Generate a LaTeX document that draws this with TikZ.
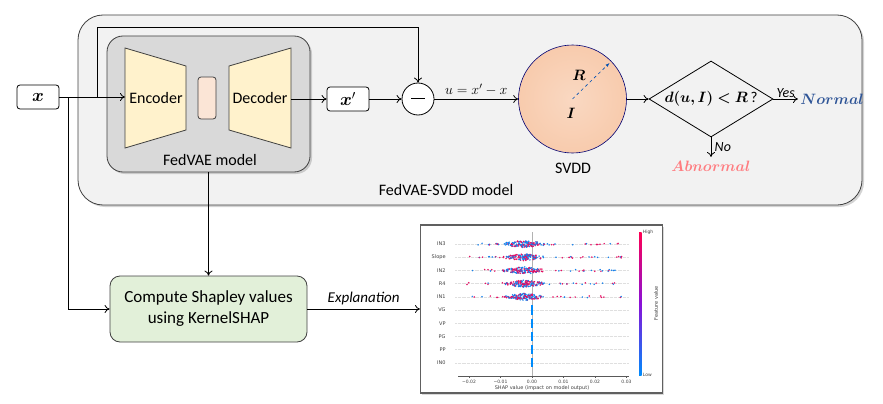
\RequirePackage{fix-cm}
\documentclass[tikz,border=0pt]{standalone}
\usepackage{amsmath,amssymb,bm}
\usepackage{fontspec}
\setmainfont{Carlito}
\setsansfont{DejaVu Sans}
\usepackage{tikz}
\usetikzlibrary{arrows.meta, shadows, shapes.geometric, positioning}
\definecolor{outerbg}{HTML}{F2F2F2}
\definecolor{vaebg}{HTML}{D9D9D9}
\definecolor{cream}{HTML}{FFF2CC}
\definecolor{peach}{HTML}{FBE5D6}
\definecolor{svddc}{HTML}{F8CBAD}
\definecolor{greenbg}{HTML}{E2F0D9}
\definecolor{normalc}{HTML}{2F5597}
\definecolor{abnormalc}{HTML}{FF7C80}
\definecolor{shapred}{HTML}{FF0052}
\definecolor{shapmid}{HTML}{8A10D8}
\definecolor{shapblue}{HTML}{008BFB}
\definecolor{edgec}{HTML}{404040}
\tikzset{>={To[length=5pt,width=8pt]}}
\tikzset{
  bigbox/.style={draw=edgec, line width=0.8pt, drop shadow={opacity=0.35, shadow xshift=2pt, shadow yshift=-2pt}},
  valbox/.style={draw, rounded corners=3pt, line width=0.8pt, fill=white, minimum width=42pt, minimum height=24pt, font=\fontsize{18}{20}\selectfont},
  lbl/.style={font=\fontsize{16}{19}\selectfont},
  mathlbl/.style={font=\fontsize{15}{18}\selectfont},
  plotlbl/.style={font=\fontsize{5}{6}\sffamily, text=black!75},
  ticklbl/.style={font=\fontsize{4.5}{5}\sffamily, text=black!75},
  gridc/.style={gray!25, densely dotted, line width=0.3pt}
}

\begin{document}
\begin{tikzpicture}[x=1pt, y=-1pt, line width=0.8pt]
    \useasboundingbox (0,0) rectangle (883,404);
    % FedVAE-SVDD frame
    \node[bigbox, fill=outerbg, rounded corners=25pt, minimum width=784pt, minimum height=190pt] (outer) at (470,110) {};
    \node[lbl] (outerlbl) at (446,190) {FedVAE-SVDD model};
    % FedVAE
    \node[bigbox, fill=vaebg, rounded corners=16pt, minimum width=203pt, minimum height=136pt] (vae) at (208.5,104) {};
    \node[lbl] (vaelbl) at (210,160) {FedVAE model};
    \draw[fill=cream, draw=edgec] (125,48) -- (186,66) -- (186,130) -- (125,148) -- cycle;
    \draw[fill=cream, draw=edgec] (229,66) -- (291,48) -- (291,148) -- (229,130) -- cycle;
    \node[lbl] (enc) at (156,98) {Encoder};
    \node[lbl] (dec) at (260,98) {Decoder};
    \node[draw=edgec, fill=peach, rounded corners=3pt, minimum width=18pt, minimum height=42pt] (lat) at (207,98) {};
    \coordinate (encin) at (125,97);
    \coordinate (decout) at (291,99);

    \node[valbox] (xin) at (38,97) {$\bm{x}$};
    \node[valbox] (xrec) at (348,99) {$\bm{x}'$};
    \node[draw, circle, minimum size=32pt, inner sep=0pt, fill=white] (minus) at (418,99) {\rule[0.25ex]{14pt}{1.3pt}};

    \coordinate (br) at (68,97);
    \coordinate (fb) at (97,97);
    \coordinate (fbtop) at (97,27);
    \draw[->] (xin.east) -- (encin);
    \draw[->] (fb) -- (fbtop) -| (minus.north);
    \draw[->] (decout) -- (xrec.west);
    \draw[->] (xrec.east) -- (minus.west);

    % SVDD sphere
    \node[circle, draw=blue!45!black, line width=0.6pt, inner color=svddc!75, outer color=svddc, minimum size=108pt] (svdd) at (572.5,99) {};
    \node[lbl] (svddlbl) at (573,168) {SVDD};
    \node[mathlbl] (rlbl) at (579,75) {$\bm{R}$};
    \node[mathlbl] (ilbl) at (571,113) {$\bm{I}$};
    \draw[-{Latex[length=4pt,width=3pt]}, dashed, blue!55!cyan!70!black, line width=0.6pt] (svdd.center) -- ++(37,-36);
    \draw[->] (minus.east) -- node[above, font=\fontsize{14}{16}\selectfont] {$u=x'-x$} (svdd.west);

    % decision
    \node[diamond, draw, inner sep=0pt, aspect=1.6, minimum width=124pt, minimum height=76pt, fill=outerbg, mathlbl] (test) at (711,99) {$\bm{d(u,I)<R}$\,?};
    \draw[->] (svdd.east) -- (test.west);
    \node[inner sep=2pt, anchor=west, mathlbl, text=normalc] (normal) at (798,99) {$\bm{Normal}$};
    \node[anchor=north, mathlbl, text=abnormalc] (abn) at (711,157) {$\bm{Abnormal}$};
    \draw[->] (test.east) -- node[above, font=\fontsize{14}{16}\selectfont\itshape, yshift=-2pt] {Yes} (normal.west);
    \draw[->] (test.south) -- node[right, font=\fontsize{14}{16}\selectfont\itshape] {No} (abn.north);

    % KernelSHAP
    \node[draw=edgec, fill=greenbg, rounded corners=10pt, minimum width=197pt, minimum height=66pt, align=center, font=\fontsize{17}{21}\selectfont] (shap) at (208.5,309) {Compute Shapley values\\using KernelSHAP};
    \draw[->] (br) |- (shap.west);
    \draw[->] (vae.south) -- (shap.north);

    % SHAP summary plot
    \node[draw=gray!75!black, line width=1.1pt, fill=white, minimum width=242pt, minimum height=168pt, drop shadow={opacity=0.3, shadow xshift=1.5pt, shadow yshift=-1.5pt}] (plot) at (541.5,309) {};
    \draw[->] (shap.east) -- node[above, font=\fontsize{15}{18}\selectfont\itshape] {Explanation} (plot.west);

    \draw[gray!60, line width=0.4pt] (532,232) -- (532,376);
    \foreach \f [count=\i] in {IN3,Slope,IN2,R4,IN1,VG,VP,PG,PP,IN0} {
      \pgfmathsetmacro{\yy}{244+13.2*(\i-1)}
      \draw[gridc] (455,\yy) -- (628,\yy);
      \node[plotlbl, anchor=east, inner sep=0pt] (feat\i) at (446,\yy) {\f};
    }
    \pgfmathsetseed{11}
    \foreach \yy in {244,257.2,270.4,283.6,296.8} {
      \foreach \k in {1,...,140} {
        \pgfmathsetmacro{\px}{524+11*(rand+rand)}
        \pgfmathsetmacro{\py}{\yy+3.6*rand*(1-abs(\px-524)/30)}
        \pgfmathsetmacro{\c}{rnd>0.5 ? 90 : 8}
        \fill[shapred!\c!shapblue] (\px,\py) circle (0.85pt);
      }
      \foreach \k in {1,...,36} {
        \pgfmathsetmacro{\px}{467+155*rnd}
        \pgfmathsetmacro{\py}{\yy+0.9*rand}
        \pgfmathsetmacro{\c}{rnd>0.5 ? 90 : 8}
        \fill[shapred!\c!shapblue] (\px,\py) circle (0.85pt);
      }
    }
    \foreach \yy in {310,323.2,336.4,349.6,362.8}
      \draw[shapblue, line width=2pt] (532,\yy-4.6) -- (532,\yy+4.6);

    % axis
    \draw[gray!70!black, line width=0.4pt] (458,376) -- (629,376);
    \foreach \v/\xx in {−0.02/469,−0.01/500.5,0.00/532,0.01/563.5,0.02/595,0.03/626.5} {
      \draw[gray!70!black, line width=0.4pt] (\xx,376) -- (\xx,378);
      \node[ticklbl, inner sep=0pt] at (\xx,381.5) {\v};
    }
    \node[plotlbl, inner sep=0pt] (xlbl) at (542,388.5) {SHAP value (impact on model output)};

    % colour bar
    \shade[bottom color=shapblue, top color=shapred, middle color=shapmid] (639,232) rectangle (641.5,375);
    \node[ticklbl, anchor=west, inner sep=1pt] (hi) at (641.5,232) {High};
    \node[ticklbl, anchor=west, inner sep=1pt] (lo) at (641.5,375) {Low};
    \node[plotlbl, rotate=90, inner sep=0pt] (cblbl) at (656,303) {Feature value};
\end{tikzpicture}
\end{document}
